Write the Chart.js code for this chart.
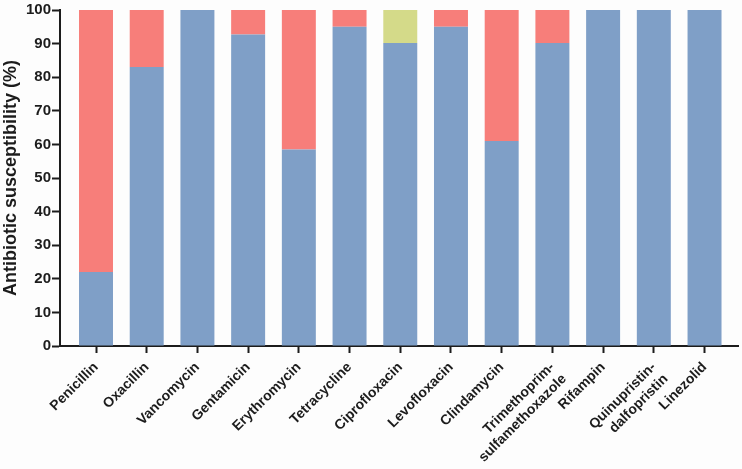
<!DOCTYPE html>
<html>
<head>
<meta charset="utf-8">
<script src="https://cdn.jsdelivr.net/npm/chart.js@4"></script>
<style>
  html, body { margin: 0; padding: 0; background: #fdfdfd; }
  #wrap { width: 742px; height: 469px; }
</style>
</head>
<body>
<div id="wrap"><canvas id="chart" width="742" height="469"></canvas></div>
<script>
const antibiotics = [
    'Penicillin', 'Oxacillin', 'Vancomycin', 'Gentamicin', 'Erythromycin',
    'Tetracycline', 'Ciprofloxacin', 'Levofloxacin', 'Clindamycin',
    ['Trimethoprim-', 'sulfamethoxazole'], 'Rifampin',
    ['Quinupristin-', 'dalfopristin'], 'Linezolid'
];
const susceptible  = [22, 83, 100, 92.7, 58.5, 95, 90.2, 95, 61, 90.2, 100, 100, 100];
const intermediate = [0, 0, 0, 0, 0, 0, 9.8, 0, 0, 0, 0, 0, 0];
const resistant    = [78, 17, 0, 7.3, 41.5, 5, 0, 5, 39, 9.8, 0, 0, 0];
const yTicks = [0, 10, 20, 30, 40, 50, 60, 70, 80, 90, 100];

const ink = '#1c1c1c';
const fontFamily = '"Liberation Sans", Arial, sans-serif';
const toPoints = (values) => values.map((v, i) => ({ x: i, y: v }));

new Chart(document.getElementById('chart'), {
    type: 'bar',
    data: {
        datasets: [
            { label: 'Susceptible', data: toPoints(susceptible), backgroundColor: '#7f9fc7' },
            { label: 'Intermediate', data: toPoints(intermediate), backgroundColor: '#d4da89' },
            { label: 'Resistant', data: toPoints(resistant), backgroundColor: '#f77e7a' }
        ]
    },
    options: {
        responsive: false,
        animation: false,
        layout: { padding: { top: 9, right: 4, bottom: 0, left: 0 } },
        datasets: {
            bar: { barPercentage: 0.67, categoryPercentage: 1, borderWidth: 0 }
        },
        plugins: {
            legend: { display: false },
            tooltip: { enabled: false }
        },
        scales: {
            x: {
                type: 'linear',
                stacked: true,
                offset: false,
                min: -0.71,
                max: 12.66,
                afterFit: (scale) => { scale.height = 123; },
                grid: {
                    offset: false,
                    drawOnChartArea: false,
                    tickLength: 7,
                    tickColor: ink,
                    tickWidth: 2
                },
                border: { color: ink, width: 2 },
                ticks: {
                    stepSize: 1,
                    includeBounds: false,
                    autoSkip: false,
                    minRotation: 45,
                    maxRotation: 45,
                    padding: 6,
                    color: ink,
                    font: { family: fontFamily, size: 14, weight: 'bold' },
                    callback: (value) => antibiotics[value] ?? ''
                }
            },
            y: {
                stacked: true,
                min: 0,
                max: 100,
                afterFit: (scale) => { scale.width = 60; },
                grid: {
                    drawOnChartArea: false,
                    tickLength: 8,
                    tickColor: ink,
                    tickWidth: 2
                },
                border: { color: ink, width: 2 },
                afterBuildTicks: (scale) => {
                    scale.ticks = yTicks.map((v) => ({ value: v }));
                },
                ticks: {
                    padding: 1,
                    color: ink,
                    font: { family: fontFamily, size: 15, weight: 'bold' }
                },
                title: {
                    display: true,
                    text: 'Antibiotic susceptibility (%)',
                    color: ink,
                    padding: { top: 0, bottom: 0 },
                    font: { family: fontFamily, size: 18, weight: 'bold' }
                }
            }
        }
    }
});
</script>
</body>
</html>
